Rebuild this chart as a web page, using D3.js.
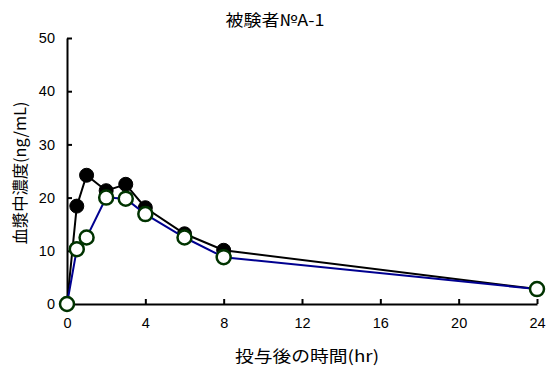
<!DOCTYPE html>
<html><head><meta charset="utf-8">
<script src="https://cdn.jsdelivr.net/npm/d3@7/dist/d3.min.js"></script>
<style>body{margin:0;background:#fff}</style>
</head><body>
<svg id="c" width="549" height="369"></svg>
<script>
const times = [0, 0.5, 1, 2, 3, 4, 6, 8, 24];
const seriesA = [0, 18.4, 24.2, 21.3, 22.5, 18.1, 13.2, 10.1, 2.8];
const seriesB = [0, 10.3, 12.5, 20.0, 19.8, 16.9, 12.5, 8.8, 2.8];
const xTicks = [0, 4, 8, 12, 16, 20, 24];
const yTicks = [0, 10, 20, 30, 40, 50];
const title = "被験者№A-1";
const xLabel = "投与後の時間(hr)";
const yLabel = "血漿中濃度(ng/mL)";

const svg = d3.select("#c");
const x = d3.scaleLinear().domain([0, 24]).range([67, 537]);
const y = d3.scaleLinear().domain([0, 50]).range([304, 38]);
const numFont = "'Liberation Sans', Arial, sans-serif";
const jpFont = "'Noto Sans CJK JP', sans-serif";

const xAxis = svg.append("g").attr("transform", `translate(0,${y(0)})`)
  .call(d3.axisBottom(x).tickValues(xTicks).tickSizeInner(-5).tickSizeOuter(0).tickPadding(14));
const yAxis = svg.append("g").attr("transform", `translate(${x(0)},0)`)
  .call(d3.axisLeft(y).tickValues(yTicks).tickSizeInner(-5).tickSizeOuter(0).tickPadding(12));
[xAxis, yAxis].forEach(a => {
  a.select(".domain").attr("stroke", "#000").attr("stroke-width", 2);
  a.selectAll(".tick line").attr("stroke", "#000").attr("stroke-width", 2);
  a.selectAll(".tick text").attr("font-family", numFont).attr("font-size", 14.5).attr("fill", "#000");
});

const line = d3.line().x((d, i) => x(times[i])).y(d => y(d));
svg.append("path").datum(seriesA).attr("d", line).attr("fill", "none").attr("stroke", "#000").attr("stroke-width", 2);
svg.append("g").selectAll("circle").data(seriesA).join("circle")
  .attr("cx", (d, i) => x(times[i])).attr("cy", d => y(d)).attr("r", 7)
  .attr("fill", "#000").attr("stroke", "#000").attr("stroke-width", 1);
svg.append("path").datum(seriesB).attr("d", line).attr("fill", "none").attr("stroke", "#000090").attr("stroke-width", 2);
svg.append("g").selectAll("circle").data(seriesB).join("circle")
  .attr("cx", (d, i) => x(times[i])).attr("cy", d => y(d)).attr("r", 7)
  .attr("fill", "#fff").attr("stroke", "#003300").attr("stroke-width", 2.5);

svg.append("text").attr("x", 275).attr("y", 26).attr("text-anchor", "middle")
  .attr("font-family", jpFont).attr("font-size", 16)
  .attr("textLength", 99).attr("lengthAdjust", "spacingAndGlyphs").text(title);
svg.append("text").attr("x", 307).attr("y", 362).attr("text-anchor", "middle")
  .attr("font-family", jpFont).attr("font-size", 16)
  .attr("textLength", 144).attr("lengthAdjust", "spacingAndGlyphs").text(xLabel);
svg.append("text").attr("transform", "translate(26,173) rotate(-90)").attr("text-anchor", "middle")
  .attr("font-family", jpFont).attr("font-size", 16)
  .attr("textLength", 143).attr("lengthAdjust", "spacingAndGlyphs").text(yLabel);
</script>
</body></html>
